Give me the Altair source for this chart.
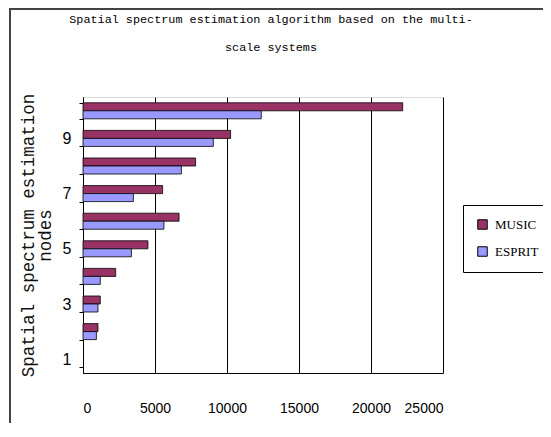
import altair as alt
import pandas as pd

nodes = ["2", "3", "4", "5", "6", "7", "8", "9", "10"]
music = [1040, 1200, 2270, 4510, 6670, 5530, 7820, 10250, 22200]
esprit = [930, 1040, 1200, 3360, 5620, 3500, 6830, 9050, 12380]
node_domain = ["10", "9", "8", "7", "6", "5", "4", "3", "2", "1"]
series_names = ["MUSIC", "ESPRIT"]
series_colors = ["#993366", "#9999FF"]
x_ticks = [0, 5000, 10000, 15000, 20000, 25000]

rows = []
for n, m, e in zip(nodes, music, esprit):
    rows.append({"node": n, "series": "MUSIC", "value": m})
    rows.append({"node": n, "series": "ESPRIT", "value": e})
df = pd.DataFrame(rows)

narrow = "Liberation Sans, sans-serif"
mono = "Liberation Mono, DejaVu Sans Mono, monospace"

bars = alt.Chart(df).mark_bar(stroke="black", strokeWidth=0.8).encode(
    x=alt.X("value:Q",
            scale=alt.Scale(domain=[0, 25000], nice=False),
            axis=alt.Axis(values=x_ticks, title=None, ticks=False, grid=True,
                          gridColor="black", gridOpacity=1, gridWidth=1,
                          domainColor="black", labelFont=narrow, labelFontSize=14,
                          labelColor="black", labelPadding=28, format="d")),
    y=alt.Y("node:N",
            scale=alt.Scale(domain=node_domain, paddingInner=0.42, paddingOuter=0.21),
            axis=alt.Axis(title=["Spatial spectrum estimation", "nodes"],
                          titleFont=mono, titleFontSize=17.5, titleFontWeight="normal",
                          titleColor="#111111", titlePadding=8, titleLineHeight=17,
                          labelExpr="toNumber(datum.value) % 2 == 1 ? datum.value : ''",
                          labelFont=narrow, labelFontSize=16, labelColor="black",
                          labelPadding=8, tickBand="extent", tickSize=4,
                          tickColor="black", domainColor="black", grid=False)),
    yOffset=alt.YOffset("series:N", sort=series_names,
                        scale=alt.Scale(paddingInner=0, paddingOuter=0)),
    color=alt.Color("series:N",
                    scale=alt.Scale(domain=series_names, range=series_colors),
                    legend=alt.Legend(title=None, orient="none", legendX=380, legendY=108,
                                      strokeColor="black", fillColor="white", padding=13,
                                      symbolType="square", symbolSize=90,
                                      symbolStrokeColor="black", symbolStrokeWidth=1,
                                      labelFont="Liberation Serif, serif", labelFontSize=13,
                                      labelColor="black", rowPadding=12, labelOffset=6)),
)

border_df = pd.DataFrame({"k": [0]})
left_edge = alt.Chart(border_df).mark_rule(stroke="#444444", strokeWidth=2).encode(
    x=alt.value(-73), y=alt.value(-88), y2=alt.value(500)
)
top_edge = alt.Chart(border_df).mark_rule(stroke="#444444", strokeWidth=2).encode(
    x=alt.value(-74), x2=alt.value(700), y=alt.value(-88)
)

chart = alt.layer(left_edge, top_edge, bars).properties(
    width=360, height=276,
    autosize=alt.AutoSizeParams(type="none"),
    padding={"left": 75, "top": 89, "right": 100, "bottom": 50},
    title=alt.TitleParams(
        ["Spatial spectrum estimation algorithm based on the multi-", "scale systems"],
        font=mono, fontSize=11.8, fontWeight="normal", color="black",
        anchor="middle", lineHeight=28, offset=-46, dx=8),
).configure_view(fill="#C0C0C0", stroke="#808080", strokeWidth=1).configure(background="white")

chart.save("out.html", embed_options={"renderer": "svg", "actions": False})
